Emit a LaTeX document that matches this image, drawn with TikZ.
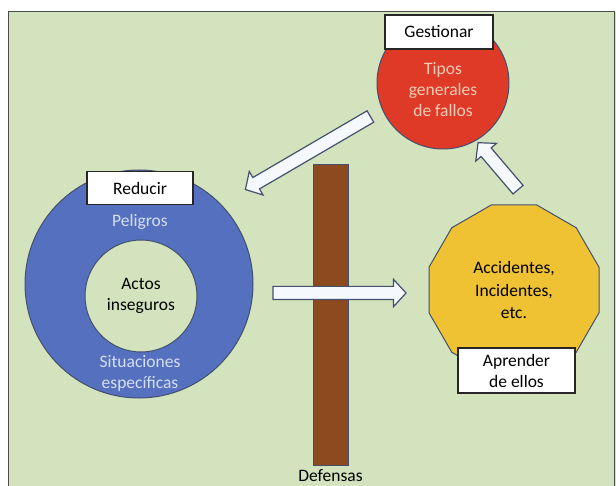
\documentclass[tikz,border=0pt]{standalone}
\usepackage{fontspec}
\setmainfont{Carlito}
\usepackage{xcolor}
\definecolor{cPanel} {HTML}{D2E3BD}
\definecolor{cRed}   {HTML}{DE3A27}
\definecolor{cBlue}  {HTML}{5470BF}
\definecolor{cGold}  {HTML}{EEC233}
\definecolor{cBrown} {HTML}{8C4A1E}
\definecolor{cEdge}  {HTML}{44506E}
\definecolor{cArrow} {HTML}{F5F8FC}
\definecolor{cPeach} {HTML}{F8CDB5}
\definecolor{cPale}  {HTML}{D5DFF3}
\usepackage{tikz}
\usetikzlibrary{shapes.geometric, shapes.arrows, positioning, calc}
\tikzset{
  every node/.style = {font=\fontsize{17.5}{21}\selectfont},
  disc/.style  = {circle, draw=cEdge, line width=1pt, inner sep=0pt,
                  minimum size=#1},
  tag/.style   = {rectangle, draw=black!85, fill=white, line width=1.2pt,
                  minimum width=#1, minimum height=33, align=center,
                  inner sep=0pt},
  tag/.default = 106,
  barrow/.style = {single arrow, draw=cEdge, fill=cArrow, line width=1.2pt,
                   single arrow head extend=7, single arrow tip angle=95,
                   inner sep=6pt},
}
% block arrow from #1 to #2, node named #3
\newcommand{\blockarrow}[3]{%
  \path let \p1=($(#2)-(#1)$), \n1={atan2(\y1,\x1)}, \n2={veclen(\x1,\y1)}
    in node[barrow, minimum height=\n2, rotate=\n1] (#3) at ($(#1)!0.5!(#2)$) {};}

\begin{document}
\begin{tikzpicture}[x=1pt, y=-1pt]

  \useasboundingbox (0,0) rectangle (616,486);
  \fill[cPanel] (8,12) rectangle (616,486);
  \draw[black!70, line width=1pt] (8,486) -- (8,12) -- (614,12) -- (614,486);

  % Peligros ring
  \node[disc=228, fill=cBlue] (ring) at (139,284) {};
  \node[disc=112, fill=cPanel, align=center] (actos) at (141,296)
        {Actos\\inseguros};
  \node[text=cPale] (peligros) at (140,222) {Peligros};
  \node[text=cPale, align=center] (situac) at (140,373)
        {Situaciones\\específicas};
  \node[tag] (reducir) at (140,188) {Reducir};

  % Tipos generales de fallos
  \node[disc=132, fill=cRed] (fallos) at (443,83) {};
  \node[text=cPeach, align=center] (fallostxt) at (443,90)
        {Tipos\\generales\\de fallos};
  \node[tag=108, minimum height=34] (gestionar) at (439,32) {Gestionar};

  % Accidentes
  \node[regular polygon, regular polygon sides=12, minimum size=176,
        inner sep=0pt, draw=cEdge, line width=1pt, fill=cGold,
        align=center, font=\fontsize{17.5}{22.5}\selectfont] (accid)
        at (514,290) {Accidentes,\\Incidentes,\\etc.};
  \node[tag=117, minimum height=45] (aprender) at (516.5,370.5)
        {Aprender\\de ellos};

  % Defensas
  \node[rectangle, draw=cEdge, line width=1pt, fill=cBrown, inner sep=0pt,
        minimum width=35, minimum height=300] (barrera) at (330.5,315) {};
  \node[below=0pt of barrera] (defensas) {Defensas};

  % flechas
  \coordinate (a1s) at (373,115);
  \coordinate (a1e) at (248,188);
  \coordinate (a2s) at (270,293);
  \coordinate (a2e) at (403,293);
  \coordinate (a3s) at (520,192);
  \coordinate (a3e) at (480,145);
  \blockarrow{a1s}{a1e}{fl1}
  \blockarrow{a2s}{a2e}{fl2}
  \blockarrow{a3s}{a3e}{fl3}

\end{tikzpicture}
\end{document}
